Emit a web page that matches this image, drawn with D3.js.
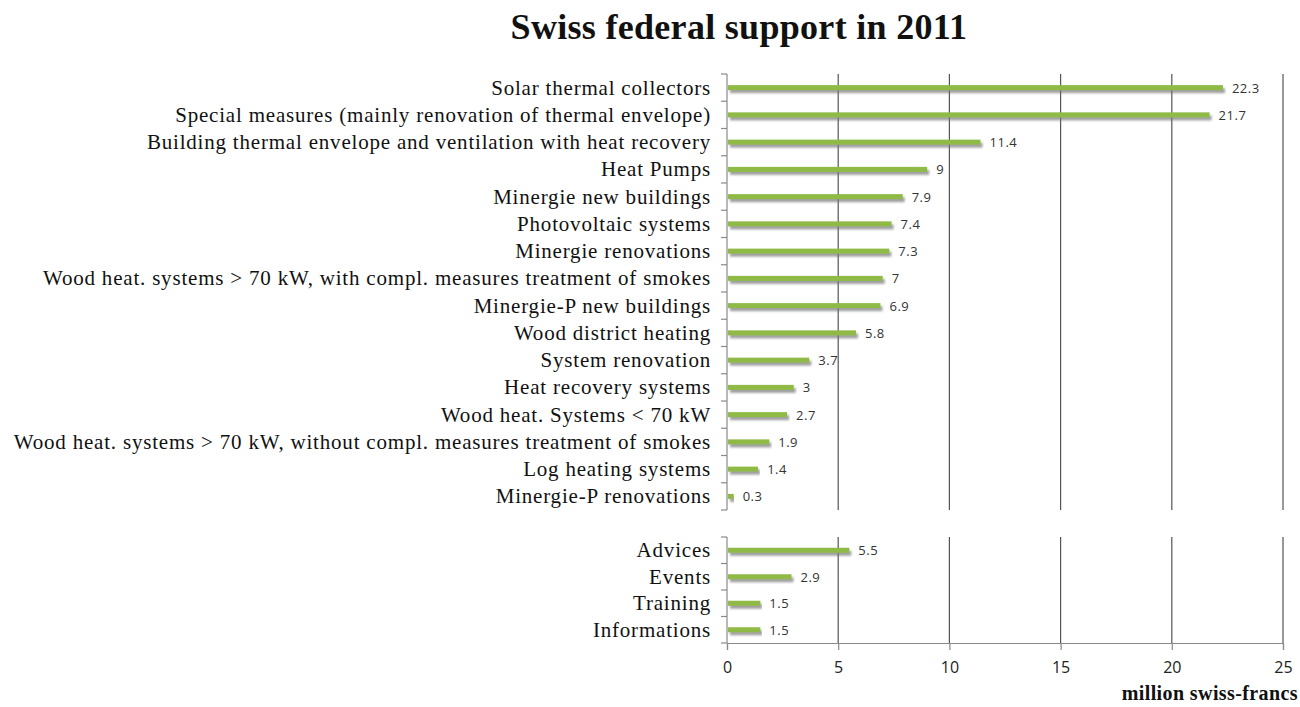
<!DOCTYPE html>
<html>
<head>
<meta charset="utf-8">
<script src="https://cdn.jsdelivr.net/npm/d3@7"></script>
<style>
  body { margin: 0; background: #fff; }
</style>
</head>
<body>
<div id="chart"></div>
<script>
// measures (top block) and promotion activities (bottom block)
const measures = [
  'Solar thermal collectors',
  'Special measures (mainly renovation of thermal envelope)',
  'Building thermal envelope and ventilation with heat recovery',
  'Heat Pumps',
  'Minergie new buildings',
  'Photovoltaic systems',
  'Minergie renovations',
  'Wood heat. systems > 70 kW, with compl. measures treatment of smokes',
  'Minergie-P new buildings',
  'Wood district heating',
  'System renovation',
  'Heat recovery systems',
  'Wood heat. Systems < 70 kW',
  'Wood heat. systems > 70 kW, without compl. measures treatment of smokes',
  'Log heating systems',
  'Minergie-P renovations'
];
const measureValues = [22.3, 21.7, 11.4, 9, 7.9, 7.4, 7.3, 7, 6.9, 5.8, 3.7, 3, 2.7, 1.9, 1.4, 0.3];

const activities = ['Advices', 'Events', 'Training', 'Informations'];
const activityValues = [5.5, 2.9, 1.5, 1.5];

const xTicks = [0, 5, 10, 15, 20, 25];

const title = 'Swiss federal support in 2011';
const unitLabel = 'million swiss-francs';

const width = 1300;
const height = 707;

const svg = d3.select('#chart').append('svg')
  .attr('width', width)
  .attr('height', height);

// soft shadow under the bars
const defs = svg.append('defs');
const f = defs.append('filter').attr('id', 'shadow')
  .attr('x', '-5%').attr('y', '-100%').attr('width', '110%').attr('height', '400%');
f.append('feDropShadow')
  .attr('dx', 2).attr('dy', 3).attr('stdDeviation', 1.3)
  .attr('flood-color', '#777').attr('flood-opacity', 0.7);

const x = d3.scaleLinear().domain([0, 25]).range([727, 1283]);

const yTop = d3.scaleBand().domain(measures).range([74, 510]);
const yBot = d3.scaleBand().domain(activities).range([537, 643]);

const axisCol = '#8a8a8a';
const gridCol = '#555';
const serif = '"Liberation Serif", "Times New Roman", serif';
const sans = '"Open Sans", "DejaVu Sans", sans-serif';

// title
svg.append('text')
  .attr('x', 739).attr('y', 39)
  .style('font-family', serif)
  .style('font-weight', 'bold')
  .style('font-size', '36px')
  .style('letter-spacing', '0.3px')
  .style('text-anchor', 'middle')
  .style('fill', '#111')
  .text(title);

function panel(cats, vals, y) {
  const g = svg.append('g');
  const [y0, y1] = y.range();

  // vertical gridlines
  g.selectAll('line.grid').data(xTicks.slice(1)).join('line')
    .attr('class', 'grid')
    .attr('x1', d => x(d)).attr('x2', d => x(d))
    .attr('y1', y0).attr('y2', y1)
    .attr('stroke', gridCol).attr('stroke-width', 1.2);

  // left axis with ticks at band edges
  g.append('line')
    .attr('x1', x(0)).attr('x2', x(0))
    .attr('y1', y0).attr('y2', y1)
    .attr('stroke', axisCol).attr('stroke-width', 1.2);
  const edges = cats.map(c => y(c)).concat([y1]);
  g.selectAll('line.tick').data(edges).join('line')
    .attr('class', 'tick')
    .attr('x1', x(0) - 6).attr('x2', x(0))
    .attr('y1', d => d).attr('y2', d => d)
    .attr('stroke', axisCol).attr('stroke-width', 1.2);

  const rows = cats.map((c, i) => ({ c: c, v: vals[i] }));
  const bh = 5;

  // bars
  g.selectAll('rect.bar').data(rows).join('rect')
    .attr('class', 'bar')
    .attr('x', x(0) + 1)
    .attr('y', d => y(d.c) + y.bandwidth() / 2 - bh / 2)
    .attr('width', d => Math.max(x(d.v) - x(0) - 1, 1.5))
    .attr('height', bh)
    .attr('fill', '#8fba45')
    .attr('filter', 'url(#shadow)');

  // value labels
  g.selectAll('text.val').data(rows).join('text')
    .attr('class', 'val')
    .attr('x', d => x(d.v) + 9)
    .attr('y', d => y(d.c) + y.bandwidth() / 2 + 5)
    .style('font-family', sans)
    .style('font-size', '13px')
    .style('letter-spacing', '0.5px')
    .style('fill', '#333')
    .text(d => d.v);

  // category labels
  g.selectAll('text.cat').data(rows).join('text')
    .attr('class', 'cat')
    .attr('x', 711)
    .attr('y', d => y(d.c) + y.bandwidth() / 2 + 7)
    .style('font-family', serif)
    .style('font-size', '21px')
    .style('letter-spacing', '0.8px')
    .style('text-anchor', 'end')
    .style('fill', '#111')
    .text(d => d.c);
}

panel(measures, measureValues, yTop);
panel(activities, activityValues, yBot);

// bottom x axis
const xAxis = svg.append('g')
  .attr('transform', 'translate(0,' + 643 + ')')
  .call(d3.axisBottom(x).tickValues(xTicks).tickSize(7).tickPadding(12).tickFormat(d3.format('d')));
xAxis.select('.domain').attr('stroke', axisCol).attr('stroke-width', 1.2);
xAxis.selectAll('.tick line').attr('stroke', axisCol).attr('stroke-width', 1.2);
xAxis.selectAll('.tick text')
  .style('font-family', sans)
  .style('font-size', '16px')
  .style('fill', '#222');

svg.append('text')
  .attr('x', 1298).attr('y', 700)
  .style('font-family', serif)
  .style('font-weight', 'bold')
  .style('font-size', '20px')
  .style('letter-spacing', '0.4px')
  .style('text-anchor', 'end')
  .style('fill', '#111')
  .text(unitLabel);
</script>
</body>
</html>
